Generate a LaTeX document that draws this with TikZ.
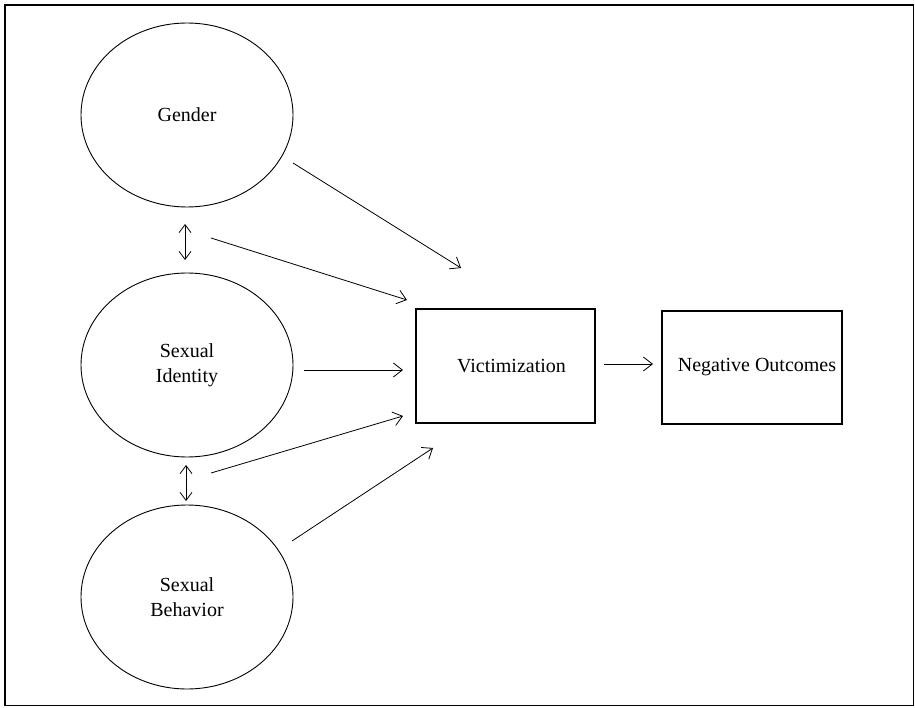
\documentclass[tikz,border=0pt]{standalone}
\usepackage{fontspec}
\setmainfont{Liberation Serif}
\usetikzlibrary{shapes.geometric,arrows.meta}
\begin{document}
\begin{tikzpicture}[x=1pt,y=-1pt,
 latent/.style={draw,ellipse,line width=0.9pt,minimum width=212pt,minimum height=184pt,inner sep=0pt,align=center,font=\fontsize{20}{25}\selectfont},
 obs/.style={draw,rectangle,line width=1.2pt,inner sep=0pt,font=\fontsize{20}{25}\selectfont},
 path/.style={line width=0.8pt,-{Straight Barb[length=9pt,width=14pt]}},
 cov/.style={line width=0.8pt,{Straight Barb[length=8pt,width=12pt]}-{Straight Barb[length=8pt,width=12pt]}}]
\useasboundingbox (0,0) rectangle (915,708);
\draw[line width=1.5pt] (5,5) rectangle (913.5,705.5);
\node[latent] (gender) at (187,115) {Gender};
\node[latent] (ident) at (187,365) {\rule{0pt}{8pt}Sexual\\Identity};
\node[latent] (behav) at (187,597) {\rule{0pt}{6pt}Sexual\\Behavior};
\node[obs,minimum width=179pt,minimum height=114pt] (vict) at (505.5,366) {\hspace*{12pt}Victimization};
\node[obs,minimum width=180pt,minimum height=113pt] (neg) at (752,367.5) {\hspace*{10pt}Negative Outcomes};
\coordinate (a1s) at (293,163); \coordinate (a1e) at (461,268);
\coordinate (a2s) at (211,238); \coordinate (a2e) at (407,300);
\coordinate (a3s) at (304,370); \coordinate (a3e) at (403,370);
\coordinate (a4s) at (211,473); \coordinate (a4e) at (403,416);
\coordinate (a5s) at (292,541); \coordinate (a5e) at (433,448);
\coordinate (a6s) at (604,364); \coordinate (a6e) at (653,364);
\coordinate (c1s) at (185,224); \coordinate (c1e) at (185,260);
\coordinate (c2s) at (186,465); \coordinate (c2e) at (186,501);
\draw[path] (a1s) -- (a1e);
\draw[path] (a2s) -- (a2e);
\draw[path] (a3s) -- (a3e);
\draw[path] (a4s) -- (a4e);
\draw[path] (a5s) -- (a5e);
\draw[path] (a6s) -- (a6e);
\draw[cov] (c1s) -- (c1e);
\draw[cov] (c2s) -- (c2e);
\end{tikzpicture}
\end{document}
